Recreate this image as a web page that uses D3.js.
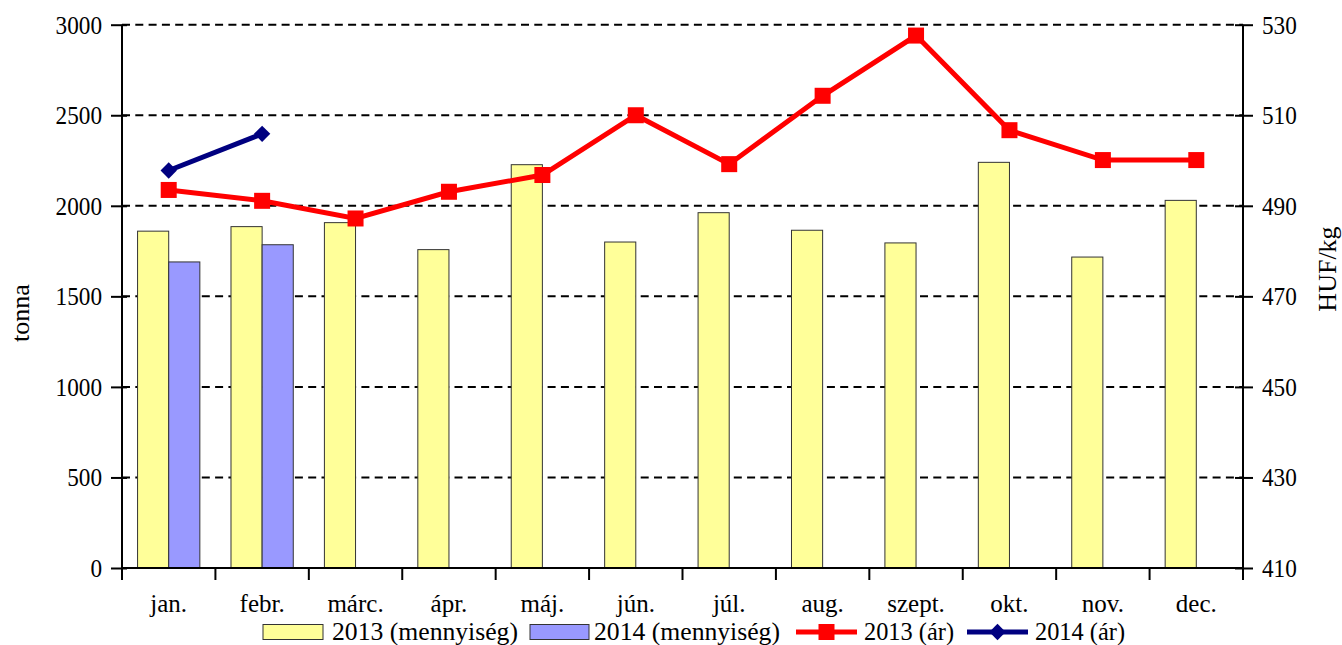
<!DOCTYPE html>
<html><head><meta charset="utf-8">
<script src="https://cdn.jsdelivr.net/npm/d3@7"></script>
<style>body{margin:0;background:#fff}svg{display:block}text{font-family:"Liberation Serif","Times New Roman",serif;fill:#000}</style>
</head><body>
<script>
const months = ["jan.","febr.","márc.","ápr.","máj.","jún.","júl.","aug.","szept.","okt.","nov.","dec."];
const qty2013 = [1860,1885,1907,1758,2227,1800,1962,1865,1795,2240,1717,2030];
const qty2014 = [1690,1785,null,null,null,null,null,null,null,null,null,null];
const price2013 = [493.5,491.1,487.2,493.1,496.8,510.0,499.2,514.3,527.6,506.7,500.1,500.1];
const price2014 = [497.8,505.9,null,null,null,null,null,null,null,null,null,null];
const leftTicks = [0,500,1000,1500,2000,2500,3000];
const rightTicks = [410,430,450,470,490,510,530];
const seriesNames = ["2013 (mennyiség)","2014 (mennyiség)","2013 (ár)","2014 (ár)"];

const W=1342,H=645;
const L=122,R=1243,T=24.7,B=568;
const FF='"Liberation Serif","Times New Roman",serif';
const svg=d3.select("body").append("svg").attr("width",W).attr("height",H);
const x=d3.scaleBand().domain(months).range([L,R]);
const bw=x.bandwidth();
const yL=d3.scaleLinear().domain([0,3000]).range([B,T]);
const yR=d3.scaleLinear().domain([410,530]).range([B,T]);

// gridlines
svg.append("g").selectAll("line").data(leftTicks.filter(d=>d>0)).join("line")
  .attr("x1",L).attr("x2",R).attr("y1",d=>yL(d)).attr("y2",d=>yL(d))
  .attr("stroke","#000").attr("stroke-width",2).attr("stroke-dasharray","8,5.3");

// bars
const bars=svg.append("g");
bars.selectAll("rect.a").data(months).join("rect")
  .attr("x",d=>x(d)+bw/6).attr("width",bw/3)
  .attr("y",(d,i)=>yL(qty2013[i])).attr("height",(d,i)=>B-yL(qty2013[i]))
  .attr("fill","#FFFF99").attr("stroke","#333").attr("stroke-width",1);
bars.selectAll("rect.b").data(months.filter((d,i)=>qty2014[i]!=null)).join("rect")
  .attr("x",d=>x(d)+bw/2).attr("width",bw/3)
  .attr("y",(d,i)=>yL(qty2014[i])).attr("height",(d,i)=>B-yL(qty2014[i]))
  .attr("fill","#9999FF").attr("stroke","#333").attr("stroke-width",1);

// axes
const la=d3.axisLeft(yL).tickValues(leftTicks).tickFormat(d3.format("d")).tickSize(11).tickPadding(9);
const gl=svg.append("g").attr("transform",`translate(${L},0)`).call(la);
const ra=d3.axisRight(yR).tickValues(rightTicks).tickFormat(d3.format("d")).tickSize(10).tickPadding(9);
const gr=svg.append("g").attr("transform",`translate(${R},0)`).call(ra);
[gl,gr].forEach(g=>{
  g.attr("font-family",null).attr("font-size",null);
  g.select(".domain").remove();
  g.selectAll("line").attr("stroke","#000").attr("stroke-width",2);
  g.selectAll("text").style("font-size","26px").style("font-family",FF)
    .attr("textLength",function(){return this.textContent.length*11.6;})
    .attr("lengthAdjust","spacingAndGlyphs");
});
gl.selectAll(".tick line").attr("x2",-11).attr("x1",5);
gr.selectAll(".tick line").attr("x1",-8).attr("x2",10);
svg.append("line").attr("x1",L).attr("x2",L).attr("y1",T).attr("y2",B+12).attr("stroke","#000").attr("stroke-width",2);
svg.append("line").attr("x1",R).attr("x2",R).attr("y1",T).attr("y2",B+12).attr("stroke","#000").attr("stroke-width",2);
// x axis
svg.append("line").attr("x1",L).attr("x2",R).attr("y1",B).attr("y2",B).attr("stroke","#000").attr("stroke-width",2);
svg.append("g").selectAll("line").data(months.slice(1)).join("line")
  .attr("x1",d=>x(d)).attr("x2",d=>x(d)).attr("y1",B).attr("y2",B+12)
  .attr("stroke","#000").attr("stroke-width",2);
svg.append("g").selectAll("text").data(months).join("text")
  .attr("x",d=>x(d)+bw/2).attr("y",612).attr("text-anchor","middle")
  .style("font-size","25px").text(d=>d);

// axis titles
svg.append("text").attr("transform","translate(29,313) rotate(-90)").attr("text-anchor","middle").style("font-size","26px").text("tonna");
svg.append("text").attr("transform","translate(1336,269) rotate(-90)").attr("text-anchor","middle").style("font-size","26px").text("HUF/kg");

// lines
const cx=d=>x(d)+bw/2;
const line=d3.line().defined(d=>d[1]!=null).x(d=>cx(d[0])).y(d=>yR(d[1]));
const d13=months.map((m,i)=>[m,price2013[i]]);
const d14=months.map((m,i)=>[m,price2014[i]]).filter(d=>d[1]!=null);
svg.append("path").datum(d13).attr("d",line).attr("fill","none").attr("stroke","#FF0000").attr("stroke-width",5).attr("stroke-linejoin","miter");
svg.append("g").selectAll("rect").data(d13).join("rect")
  .attr("x",d=>cx(d[0])-8).attr("y",d=>yR(d[1])-8).attr("width",16).attr("height",16).attr("fill","#FF0000");
svg.append("path").datum(d14).attr("d",line).attr("fill","none").attr("stroke","#000080").attr("stroke-width",5);
const dia=d3.symbol().type(d3.symbolDiamond2).size(170);
svg.append("g").selectAll("path").data(d14).join("path")
  .attr("transform",d=>`translate(${cx(d[0])},${yR(d[1])})`).attr("d",dia).attr("fill","#000080");

// legend
const lg=svg.append("g");
const ly=632;
const lw=[186,186,90,90];
lg.append("rect").attr("x",263).attr("y",ly-7.5).attr("width",60).attr("height",15).attr("fill","#FFFF99").attr("stroke","#333");
lg.append("rect").attr("x",530).attr("y",ly-7.5).attr("width",59).attr("height",15).attr("fill","#9999FF").attr("stroke","#333");
lg.append("line").attr("x1",796).attr("x2",857).attr("y1",ly).attr("y2",ly).attr("stroke","#FF0000").attr("stroke-width",5);
lg.append("rect").attr("x",826.5-8).attr("y",ly-8).attr("width",16).attr("height",16).attr("fill","#FF0000");
lg.append("line").attr("x1",967).attr("x2",1028).attr("y1",ly).attr("y2",ly).attr("stroke","#000080").attr("stroke-width",5);
lg.append("path").attr("transform",`translate(997.5,${ly})`).attr("d",dia).attr("fill","#000080");
const lx=[332,594,864,1035];
lg.selectAll("text").data(seriesNames).join("text")
  .attr("x",(d,i)=>lx[i]).attr("y",640).style("font-size","25px")
  .attr("textLength",(d,i)=>lw[i]).attr("lengthAdjust","spacingAndGlyphs").text(d=>d);
</script>
</body></html>
